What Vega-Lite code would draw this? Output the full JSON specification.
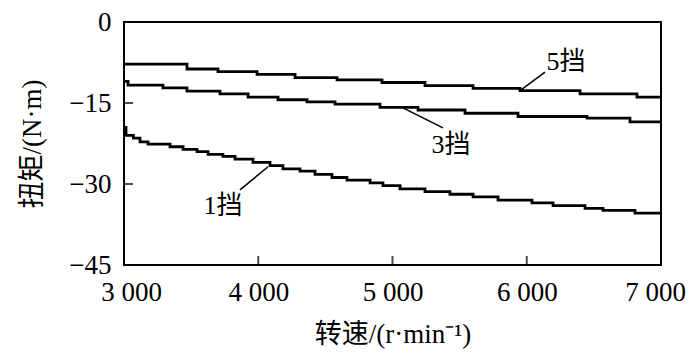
{
  "$schema": "https://vega.github.io/schema/vega-lite/v6.json",
  "width": 537,
  "height": 243,
  "autosize": {"type": "none"},
  "padding": {"left": 124, "top": 22, "right": 39, "bottom": 88},
  "background": "white",
  "config": {
    "view": {"stroke": "black", "strokeWidth": 2},
    "axis": {
      "grid": false,
      "domain": false,
      "ticks": false,
      "labelColor": "black",
      "labelFont": "Liberation Serif, Times New Roman, serif",
      "labelFontSize": 27,
      "titleColor": "black",
      "titleFont": "Liberation Serif, Times New Roman, serif, Noto Sans CJK SC",
      "titleFontSize": 27,
      "titleFontWeight": "normal"
    }
  },
  "datasets": {
    "curves": [
      {"gear": "5", "rpm": 3000, "torque": -7.8},
      {"gear": "5", "rpm": 3469, "torque": -8.7},
      {"gear": "5", "rpm": 3700, "torque": -9.2},
      {"gear": "5", "rpm": 3991, "torque": -9.7},
      {"gear": "5", "rpm": 4274, "torque": -10.3},
      {"gear": "5", "rpm": 4587, "torque": -10.7},
      {"gear": "5", "rpm": 4922, "torque": -11.2},
      {"gear": "5", "rpm": 5242, "torque": -11.8},
      {"gear": "5", "rpm": 5600, "torque": -12.3},
      {"gear": "5", "rpm": 5950, "torque": -12.7},
      {"gear": "5", "rpm": 6397, "torque": -13.3},
      {"gear": "5", "rpm": 6821, "torque": -13.9},
      {"gear": "5", "rpm": 7000, "torque": -13.9},
      {"gear": "3", "rpm": 3000, "torque": -11.0},
      {"gear": "3", "rpm": 3030, "torque": -11.7},
      {"gear": "3", "rpm": 3290, "torque": -12.2},
      {"gear": "3", "rpm": 3469, "torque": -12.8},
      {"gear": "3", "rpm": 3715, "torque": -13.3},
      {"gear": "3", "rpm": 3924, "torque": -13.9},
      {"gear": "3", "rpm": 4147, "torque": -14.4},
      {"gear": "3", "rpm": 4363, "torque": -14.8},
      {"gear": "3", "rpm": 4572, "torque": -15.2},
      {"gear": "3", "rpm": 4907, "torque": -15.8},
      {"gear": "3", "rpm": 5190, "torque": -16.3},
      {"gear": "3", "rpm": 5540, "torque": -16.9},
      {"gear": "3", "rpm": 5935, "torque": -17.5},
      {"gear": "3", "rpm": 6449, "torque": -17.8},
      {"gear": "3", "rpm": 6769, "torque": -18.5},
      {"gear": "3", "rpm": 7000, "torque": -18.5},
      {"gear": "1", "rpm": 3000, "torque": -19.5},
      {"gear": "1", "rpm": 3015, "torque": -21.0},
      {"gear": "1", "rpm": 3070, "torque": -21.5},
      {"gear": "1", "rpm": 3119, "torque": -22.2},
      {"gear": "1", "rpm": 3179, "torque": -22.6},
      {"gear": "1", "rpm": 3343, "torque": -23.1},
      {"gear": "1", "rpm": 3440, "torque": -23.6},
      {"gear": "1", "rpm": 3544, "torque": -24.0},
      {"gear": "1", "rpm": 3626, "torque": -24.5},
      {"gear": "1", "rpm": 3737, "torque": -24.9},
      {"gear": "1", "rpm": 3827, "torque": -25.4},
      {"gear": "1", "rpm": 3961, "torque": -26.0},
      {"gear": "1", "rpm": 4088, "torque": -26.6},
      {"gear": "1", "rpm": 4184, "torque": -27.2},
      {"gear": "1", "rpm": 4311, "torque": -27.6},
      {"gear": "1", "rpm": 4423, "torque": -28.2},
      {"gear": "1", "rpm": 4549, "torque": -28.8},
      {"gear": "1", "rpm": 4661, "torque": -29.3},
      {"gear": "1", "rpm": 4833, "torque": -29.8},
      {"gear": "1", "rpm": 4929, "torque": -30.3},
      {"gear": "1", "rpm": 5056, "torque": -30.9},
      {"gear": "1", "rpm": 5242, "torque": -31.4},
      {"gear": "1", "rpm": 5428, "torque": -31.9},
      {"gear": "1", "rpm": 5600, "torque": -32.4},
      {"gear": "1", "rpm": 5786, "torque": -33.0},
      {"gear": "1", "rpm": 6039, "torque": -33.5},
      {"gear": "1", "rpm": 6196, "torque": -34.0},
      {"gear": "1", "rpm": 6434, "torque": -34.5},
      {"gear": "1", "rpm": 6568, "torque": -34.9},
      {"gear": "1", "rpm": 6806, "torque": -35.4},
      {"gear": "1", "rpm": 7000, "torque": -35.4}
    ],
    "labels": [
      {"label": "5挡", "x1": 5950, "y1": -12.7, "x2": 6136, "y2": -9.3, "tx": 6293, "ty": -7.4},
      {"label": "3挡", "x1": 5078, "y1": -15.9, "x2": 5376, "y2": -19.6, "tx": 5436, "ty": -22.8},
      {"label": "1挡", "x1": 4073, "y1": -26.8, "x2": 3864, "y2": -31.1, "tx": 3737, "ty": -34.1}
    ],
    "xticks": [{"rpm": 4000}, {"rpm": 5000}, {"rpm": 6000}],
    "yticks": [{"torque": -15}, {"torque": -30}]
  },
  "layer": [
    {
      "data": {"name": "curves"},
      "mark": {"type": "line", "interpolate": "step-after", "strokeWidth": 2.8, "color": "black", "clip": true},
      "encoding": {
        "x": {
          "field": "rpm", "type": "quantitative",
          "scale": {"domain": [3000, 7000], "nice": false},
          "axis": {
            "values": [3000, 4000, 5000, 6000, 7000],
            "labelFlush": false,
            "labelExpr": "replace(format(datum.value, ','), ',', ' ')",
            "labelPadding": 14,
            "labelOffset": {"condition": [{"test": "datum.value == 3000", "value": 7}, {"test": "datum.value == 7000", "value": -6}], "value": 0},
            "title": "转速/(r·min⁻¹)",
            "titlePadding": 16
          }
        },
        "y": {
          "field": "torque", "type": "quantitative",
          "scale": {"domain": [-45, 0], "nice": false},
          "axis": {
            "values": [0, -15, -30, -45],
            "labelPadding": 13,
            "title": "扭矩/(N·m)",
            "titlePadding": 22
          }
        },
        "detail": {"field": "gear"}
      }
    },
    {
      "data": {"name": "xticks"},
      "mark": {"type": "tick", "orient": "vertical", "size": 18, "thickness": 2, "color": "black", "clip": true},
      "encoding": {
        "x": {"field": "rpm", "type": "quantitative"},
        "y": {"datum": -45}
      }
    },
    {
      "data": {"name": "yticks"},
      "mark": {"type": "tick", "orient": "horizontal", "size": 18, "thickness": 2, "color": "black", "clip": true},
      "encoding": {
        "x": {"datum": 3000},
        "y": {"field": "torque", "type": "quantitative"}
      }
    },
    {
      "data": {"name": "labels"},
      "mark": {"type": "rule", "strokeWidth": 1.5, "color": "black"},
      "encoding": {
        "x": {"field": "x1", "type": "quantitative"},
        "y": {"field": "y1", "type": "quantitative"},
        "x2": {"field": "x2"},
        "y2": {"field": "y2"}
      }
    },
    {
      "data": {"name": "labels"},
      "mark": {"type": "text", "fontSize": 26, "font": "Liberation Serif, Times New Roman, serif, Noto Sans CJK SC", "align": "center", "baseline": "middle", "color": "black"},
      "encoding": {
        "x": {"field": "tx", "type": "quantitative"},
        "y": {"field": "ty", "type": "quantitative"},
        "text": {"field": "label"}
      }
    }
  ]
}
